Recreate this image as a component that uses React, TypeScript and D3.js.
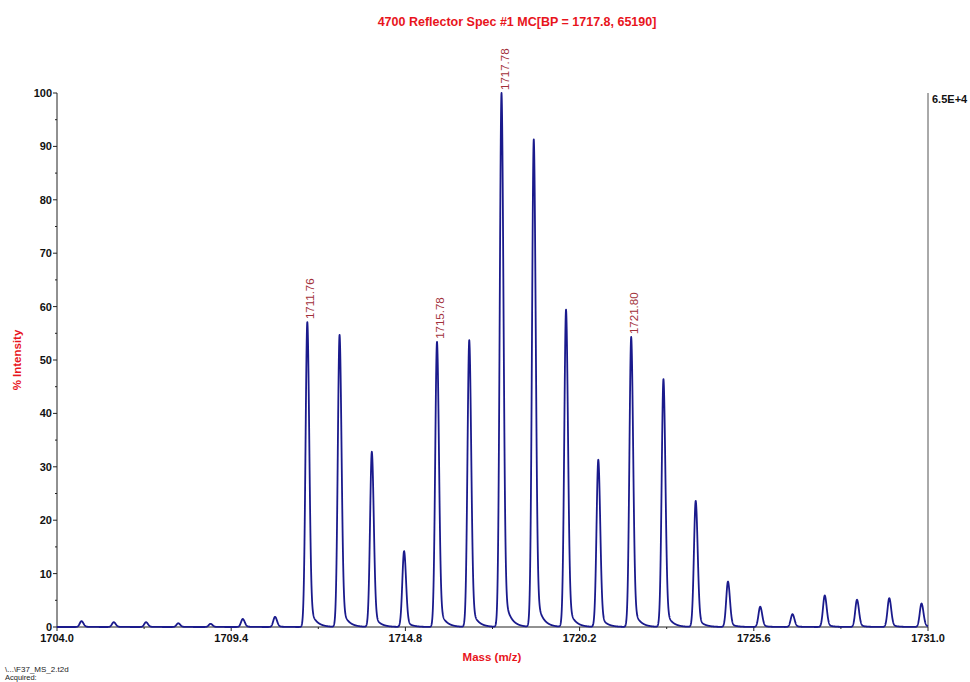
import React from "react";
import * as d3 from "d3";

const peakMasses = [1704.76, 1705.76, 1706.76, 1707.76, 1708.76, 1709.76, 1710.76,
  1711.76, 1712.76, 1713.76, 1714.76, 1715.78, 1716.78, 1717.78, 1718.78, 1719.78, 1720.78,
  1721.80, 1722.80, 1723.80, 1724.80, 1725.80, 1726.80, 1727.80, 1728.80, 1729.80, 1730.80];
const peakIntensities = [1.1, 0.9, 0.9, 0.7, 0.6, 1.5, 1.9,
  57.1, 54.7, 32.8, 14.2, 53.4, 53.7, 100, 91.3, 59.4, 31.3,
  54.3, 46.4, 23.6, 8.5, 3.8, 2.4, 5.9, 5.1, 5.4, 4.4];
const labeledPeaks = ["1711.76", "1715.78", "1717.78", "1721.80"];
const xTicks = [1704.0, 1709.4, 1714.8, 1720.2, 1725.6, 1731.0];
const yTicks = [0, 10, 20, 30, 40, 50, 60, 70, 80, 90, 100];
const title = "4700 Reflector Spec #1 MC[BP = 1717.8, 65190]";

const W = 970, H = 682;
const left = 57, right = 928, top = 93, bottom = 627;
const font = "'Liberation Sans', Arial, sans-serif";

function lineshape(dx: number, h: number) {
  if (dx < 0) {
    return h * Math.exp(-0.5 * (dx / 0.055) ** 2);
  }
  return h * (0.9 * Math.exp(-0.5 * (dx / 0.06) ** 2) + 0.1 * Math.exp(-dx / 0.17));
}

export default function App() {
  const x = d3.scaleLinear().domain([1704, 1731]).range([left, right]);
  const y = d3.scaleLinear().domain([0, 100]).range([bottom, top]);

  const pts: [number, number][] = [];
  for (let m = 1704; m <= 1731.0001; m += 0.004) {
    let v = 0;
    for (let i = 0; i < peakMasses.length; i++) {
      const dx = m - peakMasses[i];
      if (dx > -0.4 && dx < 1.2) v += lineshape(dx, peakIntensities[i]);
    }
    pts.push([m, Math.min(v, 100)]);
  }
  const line = d3.line<[number, number]>().x(d => x(d[0])).y(d => y(d[1]));

  const yMinor = d3.range(5, 100, 10);
  const xMinor = xTicks.slice(0, -1).map(t => t + 2.7);

  return (
    <svg width={W} height={H} style={{ position: "absolute", left: 0, top: 0, background: "#fff" }} fontFamily={font}>
      <text x={517} y={26} textAnchor="middle" fill="#e8141c" fontWeight="bold" fontSize={12.5}>{title}</text>
      {/* axes */}
      <line x1={left} x2={left} y1={top} y2={bottom} stroke="#222" strokeWidth={1} />
      <line x1={left} x2={right} y1={bottom} y2={bottom} stroke="#222" strokeWidth={1} />
      <line x1={right} x2={right} y1={top} y2={bottom} stroke="#555" strokeWidth={1} />
      {yTicks.map(t => (
        <g key={"y" + t}>
          <line x1={left - 4} x2={left} y1={y(t)} y2={y(t)} stroke="#222" />
          <text x={left - 5} y={y(t) + 4} textAnchor="end" fontSize={11} fontWeight="bold" fill="#111">{t}</text>
        </g>
      ))}
      {yMinor.map(t => (
        <line key={"ym" + t} x1={left - 2} x2={left} y1={y(t)} y2={y(t)} stroke="#222" />
      ))}
      {xTicks.map(t => (
        <g key={"x" + t}>
          <line x1={x(t)} x2={x(t)} y1={bottom} y2={bottom + 4} stroke="#222" />
          <text x={x(t)} y={bottom + 15} textAnchor="middle" fontSize={11} fontWeight="bold" fill="#111">{t.toFixed(1)}</text>
        </g>
      ))}
      {xMinor.map(t => (
        <line key={"xm" + t} x1={x(t)} x2={x(t)} y1={bottom} y2={bottom + 2} stroke="#222" />
      ))}
      <text x={932} y={103} fontSize={11} fontWeight="bold" fill="#111">6.5E+4</text>
      <text transform={`translate(21,360) rotate(-90)`} textAnchor="middle" fontSize={11.5} fontWeight="bold" fill="#e8141c">% Intensity</text>
      <text x={492} y={661} textAnchor="middle" fontSize={11.5} fontWeight="bold" fill="#e8141c">Mass (m/z)</text>
      <path d={line(pts) || ""} fill="none" stroke="#1a1a8c" strokeWidth={1.8} strokeLinejoin="round" />
      {labeledPeaks.map(lbl => {
        const i = peakMasses.findIndex(m => m.toFixed(2) === lbl);
        const px = x(peakMasses[i]) + 7;
        const py = y(peakIntensities[i]) - 3;
        return (
          <text key={lbl} transform={`translate(${px},${py}) rotate(-90)`} fontSize={11.5} fill="#a2303a">{lbl}</text>
        );
      })}
      <text x={5} y={672} fontSize={8} fill="#222">\...\F37_MS_2.t2d</text>
      <text x={5} y={680} fontSize={7.5} fill="#222">Acquired:</text>
    </svg>
  );
}
